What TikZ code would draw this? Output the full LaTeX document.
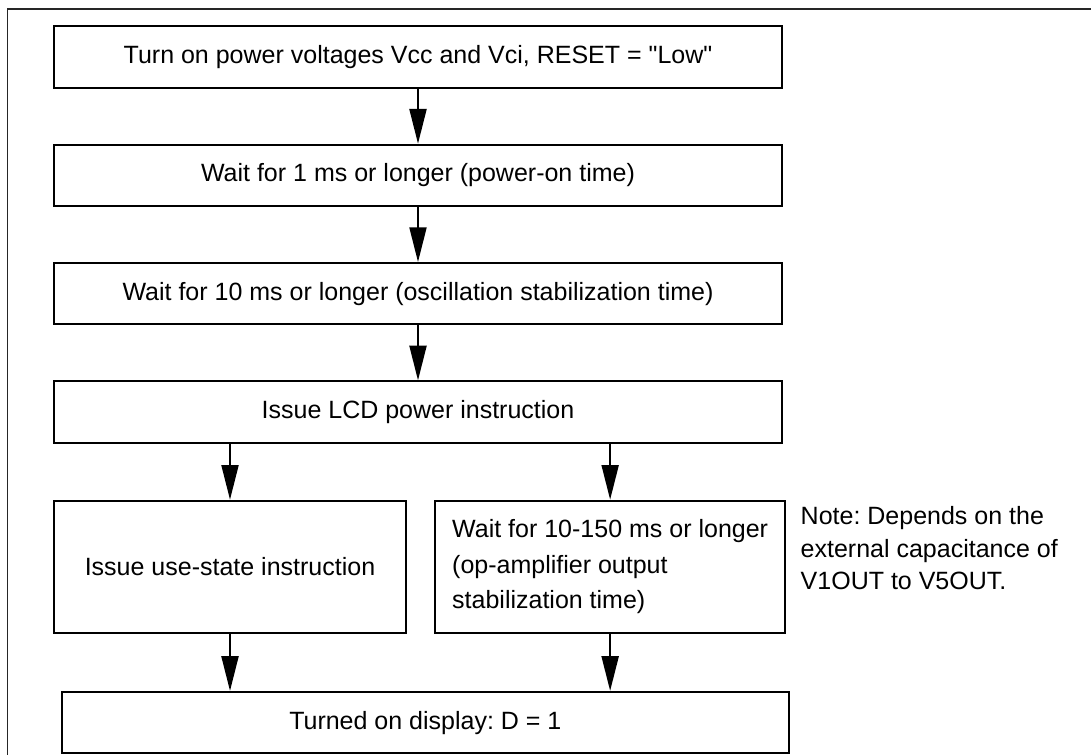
\documentclass[tikz,border=0pt]{standalone}
\usepackage{fontspec}
\setmainfont{Liberation Sans}
\usetikzlibrary{positioning, arrows.meta}
\frenchspacing

\begin{document}
\begin{tikzpicture}[
    every node/.style={font=\fontsize{18.75pt}{22pt}\selectfont},
    stepbox/.style={draw, line width=1.5pt, minimum width=546pt, minimum height=46pt, inner sep=0pt},
    halfbox/.style={draw, line width=1.5pt, minimum height=99.4pt, inner sep=0pt},
    arr/.style={-{Triangle[length=26pt, width=12.75pt]}, line width=1.5pt},
]

% page size and frame (only the top and left edges show)
\useasboundingbox (0,0) rectangle (818.25pt,-566.25pt);
\draw[line width=0.8pt, black!85] (5.5pt,-566.25pt) -- (5.5pt,-6.75pt) -- (818.25pt,-6.75pt);

% main sequence
\node[stepbox] (power) at (313.5pt,-42.75pt) {Turn on power voltages Vcc and Vci, RESET = \textquotedbl Low\textquotedbl};
\node[stepbox, below=41.25pt of power] (wait1) {Wait for 1 ms or longer (power-on time)};
\node[stepbox, below=41.25pt of wait1] (wait10) {Wait for 10 ms or longer (oscillation stabilization time)};
\node[stepbox, below=41.25pt of wait10] (lcdpwr) {Issue LCD power instruction};

% two branches side by side
\node[halfbox, minimum width=264pt, below right=42pt and 0pt of lcdpwr.south west] (usestate) {Issue use-state instruction};
\node[halfbox, minimum width=262pt, align=left, font=\fontsize{18.75pt}{26.6pt}\selectfont, right=20.6pt of usestate] (opamp) {Wait for 10-150 ms or longer\\(op-amplifier output\\stabilization time)};
\node[align=left, inner sep=0pt, font=\fontsize{18.75pt}{24.4pt}\selectfont, below right=5pt and 11pt of opamp.north east] (note) {Note: Depends on the\\external capacitance of\\V1OUT to V5OUT.};

\node[stepbox, below right=42.5pt and 6pt of usestate.south west, minimum width=545pt] (display) {Turned on display: D = 1};

% arrows
\draw[arr] (power.south) -- (wait1.north);
\draw[arr] (wait1.south) -- (wait10.north);
\draw[arr] (wait10.south) -- (lcdpwr.north);
\draw[arr] (lcdpwr.south -| usestate.north) -- (usestate.north);
\draw[arr] (lcdpwr.south -| opamp.north) -- (opamp.north);
\draw[arr] (usestate.south) -- (usestate.south |- display.north);
\draw[arr] (opamp.south) -- (opamp.south |- display.north);

\end{tikzpicture}
\end{document}
